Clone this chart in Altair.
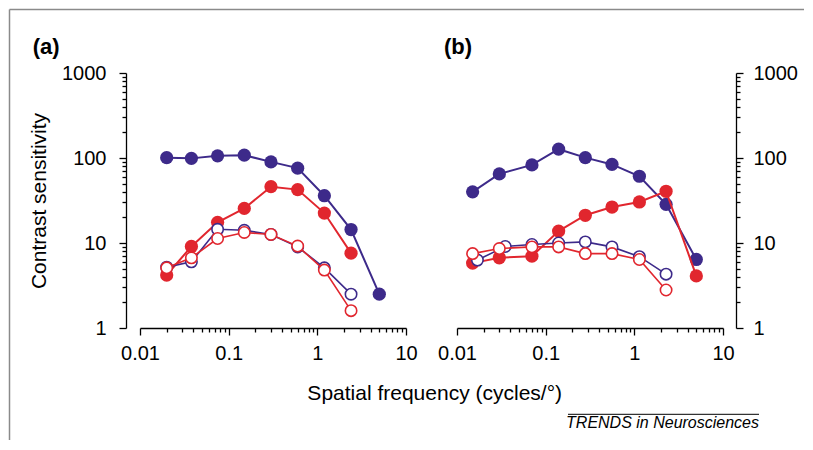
import altair as alt
import pandas as pd

FONT = "Liberation Sans"
PURPLE = "#3d2a8a"
RED = "#e1262e"

# ---- data ----
freq_a = [0.02, 0.038, 0.075, 0.15, 0.3, 0.6, 1.2, 2.4, 5.0]
a_filled_purple = [101, 99, 106, 108, 90, 76, 36, 14.4, 2.5]
a_filled_red = [4.2, 9.1, 17.5, 25.5, 46, 42.5, 22.5, 7.6]
a_open_purple = [5.2, 6.0, 14.5, 14.1, 12.6, 9.0, 5.1, 2.5]
a_open_red = [5.1, 6.7, 11.3, 13.3, 12.6, 9.2, 4.8, 1.6]

freq_b = [0.015, 0.03, 0.07, 0.14, 0.28, 0.56, 1.14, 2.28, 5.0]
freq_b_open_purple = [0.017, 0.035, 0.07, 0.14, 0.28, 0.56, 1.14, 2.28]
b_filled_purple = [40, 65, 83, 127, 101, 84, 61, 28.5, 6.4]
b_filled_red = [5.8, 6.7, 7.0, 13.8, 21.2, 26.5, 30.4, 40.6, 4.1]
b_open_purple = [6.3, 9.1, 9.6, 10.0, 10.3, 9.0, 6.9, 4.3]
b_open_red = [7.5, 8.6, 9.0, 9.0, 7.5, 7.5, 6.4, 2.8]

y_ticks = [round(m * 10 ** e, 6) for e in range(0, 3) for m in range(1, 10)] + [1000]
x_ticks = [round(m * 10 ** e, 6) for e in range(-2, 1) for m in range(1, 10)] + [10]

x_title = "Spatial frequency (cycles/°)"
y_title = "Contrast sensitivity"
footer = "TRENDS in Neurosciences"

POW10 = "abs(log(datum.value)/LN10 - round(log(datum.value)/LN10)) < 1e-6"
LABEL_EXPR = f"({POW10}) ? format(datum.value, '~g') : ''"

W, H = 266, 255

xscale = alt.Scale(type="log", domain=[0.01, 10], nice=False)
yscale = alt.Scale(type="log", domain=[1, 1000], nice=False)

xaxis = alt.Axis(values=x_ticks, labelExpr=LABEL_EXPR, labelFlush=False,
                 labelOverlap=False, labelBound=False, grid=False, title=None,
                 tickSize={"condition": {"test": POW10, "value": 7}, "value": 4},
                 labelPadding=8)


def yaxis(orient):
    kw = dict(orient=orient, values=y_ticks, labelExpr=LABEL_EXPR, labelOverlap=False,
              labelBound=False, grid=False,
              tickSize={"condition": {"test": POW10, "value": 7}, "value": 4})
    if orient == "left":
        return alt.Axis(offset=14, labelPadding=13, title=y_title, titlePadding=12,
                        titleFont=FONT, titleFontSize=21, titleFontWeight="normal",
                        titleColor="black", **kw)
    return alt.Axis(offset=13, labelPadding=10, title=None, **kw)


def series_layers(freqs, vals, color, filled, ax):
    df = pd.DataFrame({"f": freqs[:len(vals)], "v": vals})
    base = alt.Chart(df).encode(
        x=alt.X("f:Q", scale=xscale, axis=xaxis),
        y=alt.Y("v:Q", scale=yscale, axis=ax),
    )
    if filled:
        line = base.mark_line(color=color, strokeWidth=2)
        pts = base.mark_circle(color=color, size=175, opacity=1)
    else:
        line = base.mark_line(color=color, strokeWidth=1.6)
        pts = base.mark_circle(fill="white", stroke=color, strokeWidth=1.6,
                               size=130, opacity=1, fillOpacity=1)
    return [line, pts]


def one(d):
    return alt.Chart(pd.DataFrame([d]))


# ---- panel (a) ----
ya = yaxis("left")
layers_a = []
layers_a += series_layers(freq_a, a_filled_purple, PURPLE, True, ya)
layers_a += series_layers(freq_a, a_filled_red, RED, True, ya)
layers_a += series_layers(freq_a, a_open_purple, PURPLE, False, ya)
layers_a += series_layers(freq_a, a_open_red, RED, False, ya)

label_a = one({"t": "(a)"}).mark_text(font=FONT, fontSize=22, fontWeight="bold",
                                       align="left", baseline="middle", color="black").encode(
    text="t:N", x=alt.value(-107.3), y=alt.value(-25.7))
xtitle = one({"t": x_title}).mark_text(font=FONT, fontSize=21, align="center",
                                       baseline="middle", color="black").encode(
    text="t:N", x=alt.value(294.7), y=alt.value(320.5))
frame_top = one({"k": 1}).mark_rule(color="#8a8a8a", strokeWidth=1.5).encode(
    x=alt.value(-130.5), x2=alt.value(664), y=alt.value(-63.5))
frame_left = one({"k": 1}).mark_rule(color="#8a8a8a", strokeWidth=1.5).encode(
    x=alt.value(-130.5), y=alt.value(-63.5), y2=alt.value(367))

panel_a = alt.layer(*layers_a, label_a, xtitle, frame_top, frame_left).properties(
    width=W, height=H)

# ---- panel (b) ----
yb = yaxis("right")
layers_b = []
layers_b += series_layers(freq_b, b_filled_purple, PURPLE, True, yb)
layers_b += series_layers(freq_b, b_filled_red, RED, True, yb)
layers_b += series_layers(freq_b_open_purple, b_open_purple, PURPLE, False, yb)
layers_b += series_layers(freq_b, b_open_red, RED, False, yb)

label_b = one({"t": "(b)"}).mark_text(font=FONT, fontSize=22, fontWeight="bold",
                                       align="left", baseline="middle", color="black").encode(
    text="t:N", x=alt.value(-13), y=alt.value(-25.7))
foot = one({"t": footer}).mark_text(font=FONT, fontSize=16, fontStyle="italic",
                                    align="right", baseline="middle", color="black").encode(
    text="t:N", x=alt.value(302), y=alt.value(350.3))
overline = one({"k": 1}).mark_rule(color="black", strokeWidth=1).encode(
    x=alt.value(111), x2=alt.value(302), y=alt.value(341.3))

panel_b = alt.layer(*layers_b, label_b, foot, overline).properties(width=W, height=H)

chart = alt.hconcat(panel_a, panel_b, spacing=51, bounds="flush").properties(
    padding=0
).configure_view(stroke=None).configure_axis(
    domainColor="black", tickColor="black", domainWidth=1.3, tickWidth=1.3,
    labelFont=FONT, labelFontSize=20, labelColor="black",
)

chart.save("out.html", embed_options={"renderer": "svg", "actions": False})
